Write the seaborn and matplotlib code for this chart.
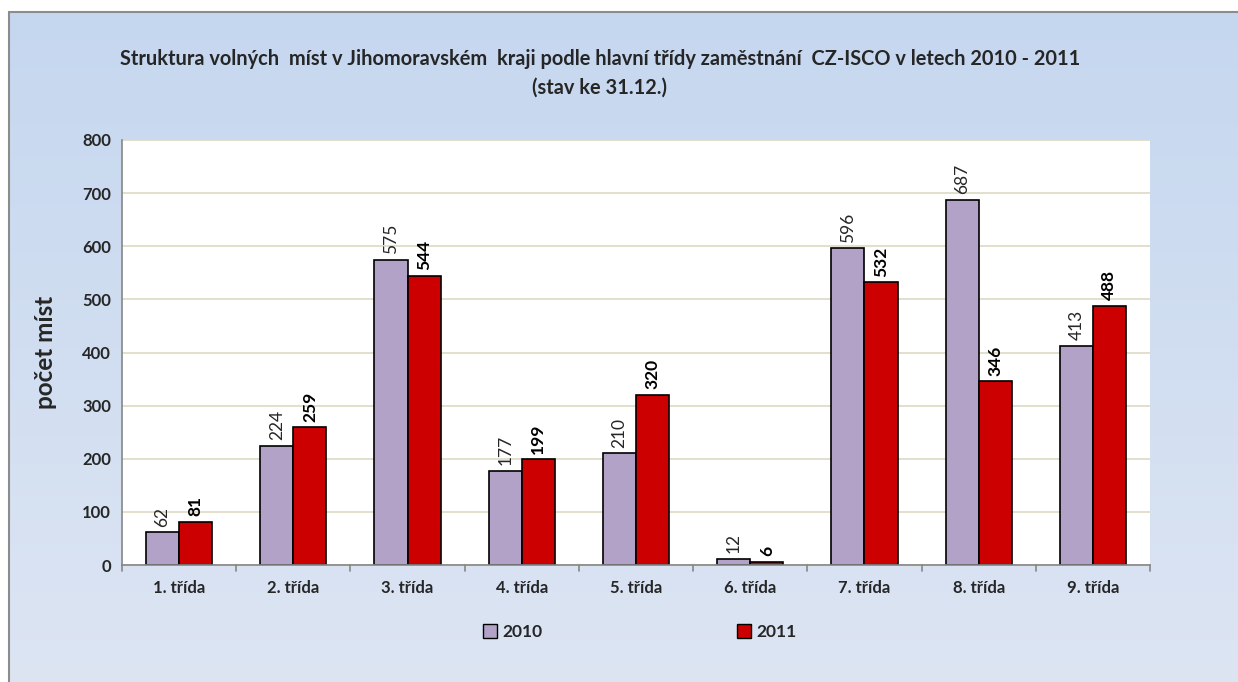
import matplotlib
matplotlib.use("Agg")
import matplotlib.pyplot as plt
import numpy as np
import pandas as pd
import seaborn as sns
from matplotlib.patches import Rectangle, Patch

# data
categories = ["1. třída", "2. třída", "3. třída", "4. třída", "5. třída",
              "6. třída", "7. třída", "8. třída", "9. třída"]
values_2010 = [62, 224, 575, 177, 210, 12, 596, 687, 413]
values_2011 = [81, 259, 544, 199, 320, 6, 532, 346, 488]
years = ["2010", "2011"]

title = ("Struktura volných  míst v Jihomoravském  kraji podle hlavní třídy zaměstnání  CZ-ISCO v letech 2010 - 2011\n"
         "(stav ke 31.12.)")

df = pd.DataFrame({
    "trida": categories * 2,
    "pocet": values_2010 + values_2011,
    "rok": [years[0]] * len(categories) + [years[1]] * len(categories),
})

sns.set_style("white")
plt.rcParams["font.family"] = ["Lato", "DejaVu Sans"]

colors = {"2010": "#B2A2C7", "2011": "#CC0000"}

fig = plt.figure(figsize=(12.38, 6.82), dpi=100)
fig.patch.set_facecolor("white")

# gradient background frame
bg = fig.add_axes([0, 0, 1, 1], zorder=0)
grad = np.linspace(0, 1, 256).reshape(-1, 1)
top = np.array([0xC5, 0xD7, 0xEF]) / 255
bot = np.array([0xDD, 0xE5, 0xF3]) / 255
img = top + (bot - top) * grad[:, :, None]
x0 = 9 / 1238
y1 = 1 - 12 / 682
bg.imshow(img, extent=[x0, 1.01, -0.01, y1], aspect="auto", origin="upper")
bg.add_patch(Rectangle((x0, -0.01), 1.01 - x0, y1 + 0.01, fill=False,
                       edgecolor="#8C8C8C", linewidth=1.5))
bg.set_xlim(0, 1)
bg.set_ylim(0, 1)
bg.axis("off")

ax = fig.add_axes([122 / 1238, 1 - 565 / 682, (1150 - 122) / 1238, (565 - 140) / 682], zorder=1)
ax.set_facecolor("white")

sns.barplot(data=df, x="trida", y="pocet", hue="rok", palette=colors,
            width=0.58, gap=0, edgecolor="black", linewidth=1.2,
            ax=ax, legend=False, saturation=1)

ax.set_ylim(0, 800)
ax.set_yticks(range(0, 801, 100))
ax.set_xlim(-0.5, len(categories) - 0.5)
ax.grid(axis="y", color="#DDD9C3", linewidth=1.2)
ax.set_axisbelow(True)

for sp in ["top", "right"]:
    ax.spines[sp].set_visible(False)
for sp in ["left", "bottom"]:
    ax.spines[sp].set_color("#868686")
    ax.spines[sp].set_linewidth(1.2)

ax.tick_params(axis="y", length=5, width=1, color="#868686", labelsize=12, pad=3)
ax.tick_params(axis="x", length=0, labelsize=12, pad=11)
for lbl in ax.get_yticklabels() + ax.get_xticklabels():
    lbl.set_fontweight("bold")

# x ticks at category boundaries
for b in np.arange(-0.5, len(categories), 1.0):
    ax.plot([b, b], [0, -12], color="#868686", linewidth=1.2, clip_on=False,
            transform=ax.transData)

ax.set_xlabel("")
ax.set_ylabel("počet míst", fontsize=17.5, fontweight="bold", labelpad=18)

# value labels
for cont, yr in zip(ax.containers, years):
    bold = yr == "2011"
    ax.bar_label(cont, labels=[str(v) for v in (values_2011 if bold else values_2010)],
                 rotation=90, padding=4, fontsize=12.5,
                 fontweight="bold" if bold else "normal",
                 color="black" if bold else "#262626")

fig.text(600 / 1238, 1 - 73 / 682, title, ha="center", va="center", fontsize=14.4,
         fontweight="bold", linespacing=1.55)

handles = [Patch(facecolor=colors[y], edgecolor="black", linewidth=1) for y in years]
fig.legend(handles, years, loc="center", bbox_to_anchor=(640 / 1238, 1 - 632 / 682),
           ncol=2, frameon=False, columnspacing=11.2, handlelength=0.8,
           handleheight=0.8, handletextpad=0.3,
           prop={"weight": "bold", "size": 12.5})

fig.savefig("out.png", dpi=100)
